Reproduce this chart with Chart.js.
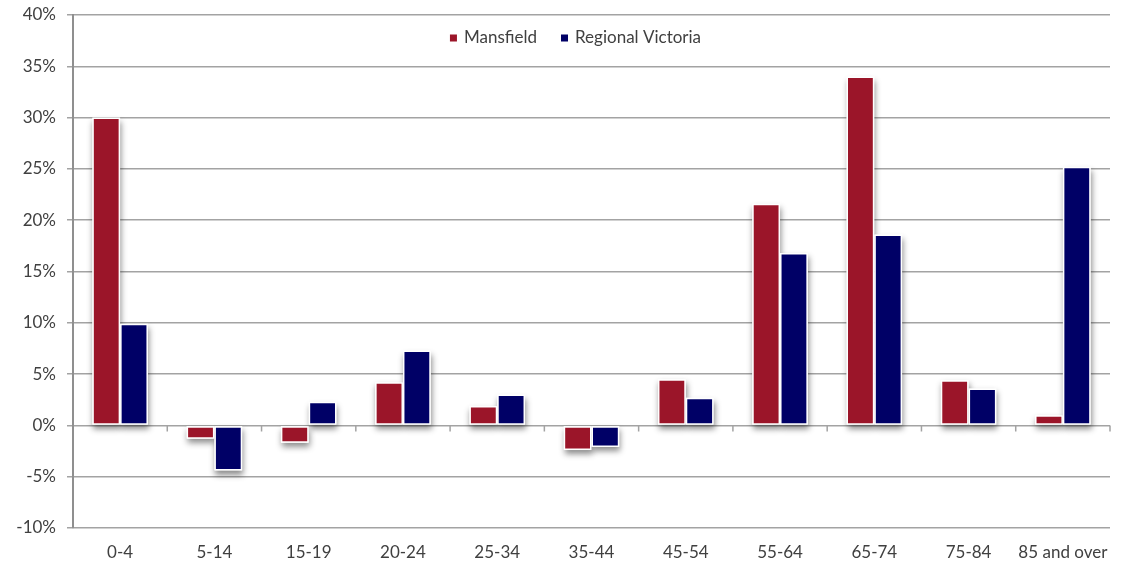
<!DOCTYPE html>
<html>
<head>
<meta charset="utf-8">
<script src="https://cdn.jsdelivr.net/npm/chart.js@4.4.1/dist/chart.umd.min.js"></script>
<style>
  html, body { margin: 0; padding: 0; background: #ffffff; }
  #wrap { width: 1121px; height: 563px; }
</style>
</head>
<body>
<div id="wrap"><canvas id="chart" width="1121" height="563"></canvas></div>
<script>
// Age groups and change in population share (%)
const categories = ['0-4', '5-14', '15-19', '20-24', '25-34', '35-44', '45-54', '55-64', '65-74', '75-84', '85 and over'];
const mansfield = [30.0, -1.3, -1.7, 4.2, 1.9, -2.4, 4.5, 21.6, 34.0, 4.4, 1.0];
const regionalVictoria = [9.9, -4.4, 2.3, 7.3, 3.0, -2.1, 2.7, 16.8, 18.6, 3.6, 25.2];
const seriesNames = ['Mansfield', 'Regional Victoria'];
const yMin = -10, yMax = 40, yStep = 5;

const RED = '#9b1529';
const NAVY = '#000066';
const TEXT = '#404040';
const GRID = '#a3a3a3';
const FONT = 'Lato, "Open Sans", sans-serif';

// Soft drop shadow behind each bar, drawn from the bar elements' geometry
const barShadow = {
  id: 'barShadow',
  beforeDatasetsDraw(chart) {
    const ctx = chart.ctx;
    ctx.save();
    ctx.fillStyle = '#ffffff';
    ctx.shadowColor = 'rgba(0,0,0,0.45)';
    ctx.shadowBlur = 6;
    ctx.shadowOffsetX = 1;
    ctx.shadowOffsetY = 4;
    chart.data.datasets.forEach((ds, i) => {
      chart.getDatasetMeta(i).data.forEach(bar => {
        const p = bar.getProps(['x', 'y', 'base', 'width'], true);
        const top = Math.min(p.y, p.base);
        const h = Math.abs(p.base - p.y);
        ctx.fillRect(p.x - p.width / 2, top, p.width, h);
      });
    });
    ctx.restore();
  }
};

// Category tick marks hanging below the zero line
const zeroTicks = {
  id: 'zeroTicks',
  beforeDatasetsDraw(chart) {
    const ctx = chart.ctx;
    const xs = chart.scales.x, ys = chart.scales.y;
    const y0 = ys.getPixelForValue(0);
    const n = categories.length;
    const step = xs.getPixelForValue(1) - xs.getPixelForValue(0);
    ctx.save();
    ctx.strokeStyle = GRID;
    ctx.lineWidth = 1.5;
    ctx.beginPath();
    for (let i = 1; i <= n; i++) {
      const xb = xs.getPixelForValue(i - 1) + step / 2;
      ctx.moveTo(xb, y0);
      ctx.lineTo(xb, y0 + 6);
    }
    ctx.stroke();
    ctx.restore();
  }
};

// Legend floating inside the top of the plot
const floatLegend = {
  id: 'floatLegend',
  afterDraw(chart) {
    const ctx = chart.ctx;
    const area = chart.chartArea;
    ctx.save();
    ctx.font = '17px ' + FONT;
    ctx.textBaseline = 'middle';
    const box = 7, gapBox = 7, gapItem = 24;
    const items = chart.data.datasets.map(ds => ({ label: ds.label, color: ds.backgroundColor, w: ctx.measureText(ds.label).width }));
    const total = items.reduce((s, it) => s + box + gapBox + it.w, 0) + gapItem * (items.length - 1);
    let x = (area.left + area.right) / 2 - 16 - total / 2;
    const y = area.top + 23;
    items.forEach(it => {
      ctx.fillStyle = it.color;
      ctx.fillRect(x, y - box / 2, box, box);
      x += box + gapBox;
      ctx.fillStyle = TEXT;
      ctx.fillText(it.label, x, y);
      x += it.w + gapItem;
    });
    ctx.restore();
  }
};

new Chart(document.getElementById('chart'), {
  type: 'bar',
  data: {
    labels: categories,
    datasets: [
      { label: seriesNames[0], data: mansfield, backgroundColor: RED, borderColor: '#ffffff', borderWidth: 1.5, borderSkipped: false },
      { label: seriesNames[1], data: regionalVictoria, backgroundColor: NAVY, borderColor: '#ffffff', borderWidth: 1.5, borderSkipped: false }
    ]
  },
  options: {
    responsive: false,
    animation: false,
    devicePixelRatio: 1,
    layout: { padding: { top: 15, right: 11, bottom: 0, left: 0 } },
    datasets: { bar: { categoryPercentage: 0.59, barPercentage: 1.0 } },
    plugins: {
      legend: { display: false },
      tooltip: { enabled: false }
    },
    scales: {
      x: {
        grid: { display: false },
        border: { display: false },
        ticks: { color: TEXT, font: { family: FONT, size: 17 }, padding: 6, maxRotation: 0 },
        afterFit(s) { s.height = 35; }
      },
      y: {
        min: yMin,
        max: yMax,
        ticks: { stepSize: yStep, color: TEXT, font: { family: FONT, size: 17 }, padding: 11, callback: v => v + '%' },
        grid: { color: GRID, lineWidth: 1.5, tickLength: 6, tickColor: GRID },
        border: { color: '#8f8f8f', width: 2 },
        afterFit(s) { s.width = 73; s.paddingTop = 0; s.paddingBottom = 0; }
      }
    }
  },
  plugins: [barShadow, zeroTicks, floatLegend]
});
</script>
</body>
</html>
